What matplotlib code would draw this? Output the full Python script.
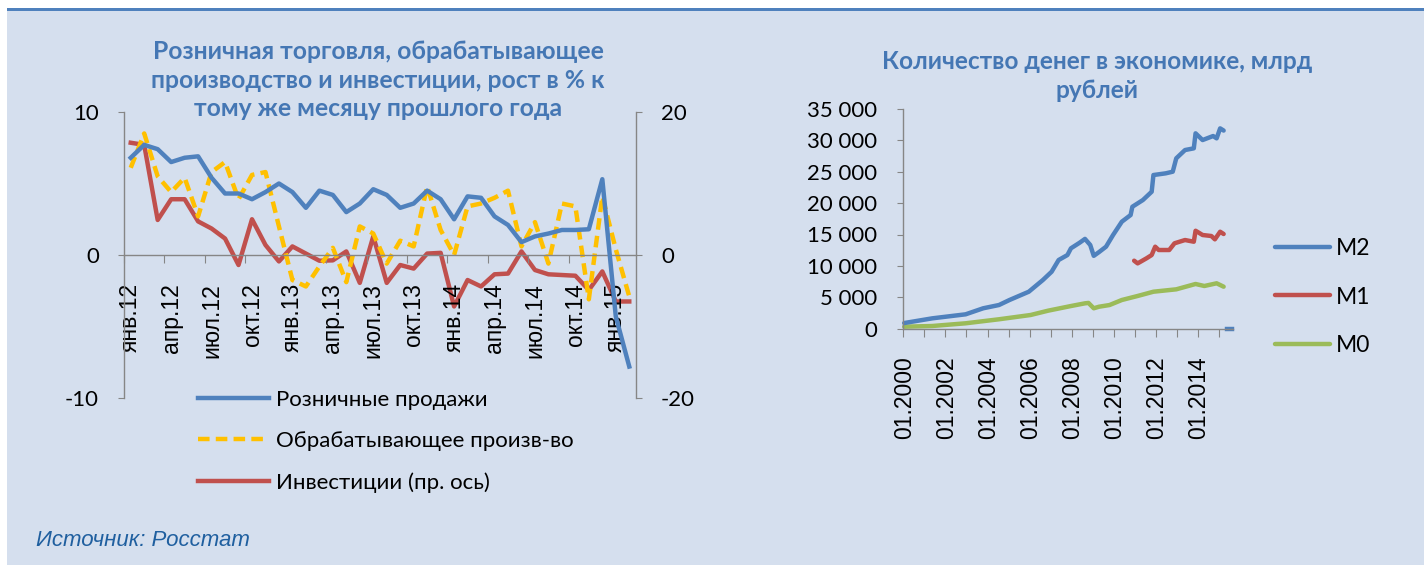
import matplotlib
matplotlib.use('Agg')
import matplotlib.pyplot as plt
from matplotlib.patches import Rectangle
from matplotlib.ticker import FuncFormatter
import numpy as np

plt.rcParams['axes.unicode_minus'] = False

W, H = 1424, 565

# left chart: Jan 2012 .. Feb 2015, y/y growth, %
retail = [6.8, 7.7, 7.4, 6.5, 6.8, 6.9, 5.4, 4.3, 4.3, 3.9, 4.4, 5.0, 4.4, 3.3,
          4.5, 4.2, 3.0, 3.6, 4.6, 4.2, 3.3, 3.6, 4.5, 3.9, 2.5, 4.1, 4.0, 2.7,
          2.1, 0.9, 1.3, 1.5, 1.75, 1.75, 1.8, 5.3, -4.3, -7.8]
manufacturing = [6.1, 8.5, 5.5, 4.4, 5.4, 2.7, 5.8, 6.5, 3.9, 5.6, 5.8, 2.0, -1.75,
                 -2.2, -0.8, 0.5, -1.9, 2.0, 1.5, -0.6, 1.0, 0.6, 4.8, 1.75, 0.0,
                 3.4, 3.6, 4.0, 4.5, 0.6, 2.3, -0.6, 3.6, 3.4, -3.1, 4.1, 0.4, -2.9]
investments = [15.7, 15.4, 4.9, 7.8, 7.8, 4.7, 3.7, 2.3, -1.4, 5.0, 1.4, -0.9, 1.2,
               0.2, -0.8, -0.75, 0.5, -3.9, 2.6, -3.9, -1.4, -1.9, 0.2, 0.3, -7.2,
               -3.5, -4.4, -2.7, -2.6, 0.5, -2.1, -2.7, -2.8, -2.9, -4.9, -2.3, -6.5, -6.5]
month_labels = ['янв.12', 'апр.12', 'июл.12', 'окт.12', 'янв.13', 'апр.13', 'июл.13',
                'окт.13', 'янв.14', 'апр.14', 'июл.14', 'окт.14', 'янв.15']

# right chart: money supply, bn rub (monthly axis Jan 2000 .. Aug 2015)
m2_dates = ['2000-01', '2001-05', '2002-12', '2003-10', '2004-07', '2005-01', '2005-12',
            '2006-08', '2007-01', '2007-05', '2007-10', '2007-12', '2008-05', '2008-08',
            '2008-11', '2009-01', '2009-04', '2009-08', '2009-12', '2010-05', '2010-10',
            '2010-11', '2011-05', '2011-10', '2011-11', '2012-06', '2012-10', '2012-12',
            '2013-05', '2013-10', '2013-11', '2014-03', '2014-09', '2014-11', '2015-01',
            '2015-03']
m2_values = [900, 1650, 2290, 3250, 3770, 4570, 5890, 7750, 9070, 10940, 11730, 12800,
             13700, 14300, 13330, 11600, 12200, 13060, 14920, 17040, 18100, 19420, 20490,
             21810, 24470, 24740, 25000, 27130, 28450, 28720, 31110, 30040, 30680, 30310,
             31900, 31550]
m2_tail_dates = ['2015-05', '2015-08']
m2_tail_values = [0, 0]
m1_dates = ['2010-12', '2011-02', '2011-07', '2011-10', '2011-12', '2012-02', '2012-08',
            '2012-11', '2013-05', '2013-10', '2013-11', '2014-03', '2014-08', '2014-10',
            '2015-01', '2015-03']
m1_values = [10830, 10400, 11200, 11730, 13060, 12530, 12530, 13600, 14120, 13850, 15600,
             14920, 14760, 14230, 15440, 15080]
m0_dates = ['2000-01', '2001-05', '2002-12', '2004-07', '2006-01', '2006-11', '2007-12',
            '2008-08', '2008-10', '2009-01', '2009-04', '2009-10', '2010-05', '2011-02',
            '2011-11', '2012-12', '2013-11', '2014-04', '2014-11', '2015-03']
m0_values = [320, 430, 860, 1500, 2180, 2870, 3610, 4040, 4100, 3250, 3500, 3770, 4570,
             5210, 5890, 6270, 7120, 6800, 7230, 6690]
year_labels = ['01.2000', '01.2002', '01.2004', '01.2006', '01.2008', '01.2010',
               '01.2012', '01.2014']
n_months = 188

BLUE = '#4F81BD'
RED = '#C0504D'
YELLOW = '#FFC000'
GREEN = '#9BBB59'
AXIS = '#868686'
TITLE = '#4577B4'
PANEL = '#D5DFEE'
CAL = ['Lato', 'DejaVu Sans']
ARIAL = ['Liberation Sans', 'DejaVu Sans']


def month_index(s):
    y, m = s.split('-')
    return (int(y) - 2000) * 12 + int(m) - 1


def px_box(x0, y_top, x1, y_bottom):
    return [x0 / W, 1 - y_bottom / H, (x1 - x0) / W, (y_bottom - y_top) / H]


def style_axis(ax):
    for sp in ax.spines.values():
        sp.set_color(AXIS)
        sp.set_linewidth(1.0)
    ax.set_facecolor('none')


fig = plt.figure(figsize=(W / 100, H / 100), dpi=100)
fig.patch.set_facecolor('white')
fig.patches.append(Rectangle((7 / W, 0), 1, (H - 11) / H, transform=fig.transFigure,
                             facecolor=PANEL, edgecolor='none', zorder=-10))
fig.patches.append(Rectangle((7 / W, (H - 11) / H), 1, 3 / H, transform=fig.transFigure,
                             facecolor=BLUE, edgecolor='none', zorder=-9))

# ---- left chart
ax = fig.add_axes(px_box(124, 112, 636, 398))
style_axis(ax)
x = np.arange(len(retail))
ax.set_xlim(-0.5, len(retail) - 0.5)
ax.set_ylim(-10, 10)
ax.spines['top'].set_visible(False)
ax.spines['right'].set_visible(False)
ax.spines['bottom'].set_position(('data', 0))
ax.set_yticks([-10, 0, 10])
ax.tick_params(axis='y', direction='out', length=4, color=AXIS, pad=14,
               labelsize=16)
ax.set_xticks(np.arange(-0.5, len(retail) - 1, 3))
ax.set_xticklabels([])
ax.set_xticks(np.arange(0, len(retail), 3), month_labels, minor=True)
ax.tick_params(axis='x', which='major', direction='out', length=6, color=AXIS)
ax.tick_params(axis='x', which='minor', length=0, pad=20, labelrotation=90,
               labelsize=16.5)
for t in ax.get_xticklabels(minor=True):
    t.set_family(ARIAL)
for t in ax.get_yticklabels():
    t.set_family(CAL)

l1, = ax.plot(x, retail, color=BLUE, lw=3.2, solid_joinstyle='round', zorder=3)
l2, = ax.plot(x, manufacturing, color=YELLOW, lw=3.2, dashes=(2.6, 1.4), zorder=2)

axr = ax.twinx()
style_axis(axr)
axr.set_ylim(-20, 20)
axr.spines['top'].set_visible(False)
axr.spines['left'].set_visible(False)
axr.spines['bottom'].set_visible(False)
axr.set_yticks([-20, 0, 20])
axr.tick_params(axis='y', direction='out', length=4, color=AXIS, pad=14, labelsize=16)
for t in axr.get_yticklabels():
    t.set_family(CAL)
l3, = axr.plot(x, investments, color=RED, lw=3.2, solid_joinstyle='round', zorder=1)
axr.set_zorder(ax.get_zorder() - 1)

fig.text(378 / W, 1 - 80 / H,
         'Розничная торговля, обрабатывающее\nпроизводство и инвестиции, рост в % к\n'
         'тому же месяцу прошлого года',
         ha='center', va='center', color=TITLE, fontsize=17.8, fontweight='bold',
         family=CAL, linespacing=1.3)

fig.legend([l1, l2, l3],
           ['Розничные продажи', 'Обрабатывающее произв-во', 'Инвестиции (пр. ось)'],
           loc='upper left', bbox_to_anchor=(198 / W, 1 - 390 / H), frameon=False,
           borderpad=0, borderaxespad=0, handlelength=3.2, handletextpad=0.3,
           labelspacing=0.95, prop={'family': CAL, 'size': 16})

fig.text(36 / W, 1 - 541 / H, 'Источник: Росстат', ha='left', va='center',
         color='#1F5F9F', fontsize=16, style='italic', family=ARIAL)

# ---- right chart
bx = fig.add_axes(px_box(903.3, 108.9, 1233.3, 328.7))
style_axis(bx)
bx.set_xlim(-0.5, n_months - 0.5)
bx.set_ylim(0, 35000)
bx.spines['top'].set_visible(False)
bx.spines['right'].set_visible(False)
bx.set_yticks(np.arange(0, 35001, 5000))
bx.yaxis.set_major_formatter(FuncFormatter(lambda v, p: f'{int(v):,}'.replace(',', ' ')))
bx.tick_params(axis='y', direction='out', length=4, color=AXIS, pad=15, labelsize=16)
for t in bx.get_yticklabels():
    t.set_family(CAL)
bx.set_xticks(np.arange(-0.5, n_months - 1, 12))
bx.set_xticklabels([])
bx.set_xticks(np.arange(0, 24 * len(year_labels), 24), year_labels, minor=True)
bx.tick_params(axis='x', which='major', direction='out', length=6, color=AXIS)
bx.tick_params(axis='x', which='minor', length=0, pad=20, labelrotation=90, labelsize=16.5)
for t in bx.get_xticklabels(minor=True):
    t.set_family(ARIAL)

g0, = bx.plot([month_index(d) for d in m0_dates], m0_values, color=GREEN, lw=3.2,
              solid_joinstyle='round', solid_capstyle='round', clip_on=False)
g1, = bx.plot([month_index(d) for d in m1_dates], m1_values, color=RED, lw=3.2,
              solid_joinstyle='round', solid_capstyle='round')
g2, = bx.plot([month_index(d) for d in m2_dates], m2_values, color=BLUE, lw=3.2,
              solid_joinstyle='round', solid_capstyle='round', clip_on=False)
bx.plot([month_index(d) for d in m2_tail_dates], m2_tail_values, color=BLUE, lw=3.2,
        clip_on=False)

fig.text(1097 / W, 1 - 76 / H, 'Количество денег в экономике, млрд\nрублей',
         ha='center', va='center', color=TITLE, fontsize=17.6, fontweight='bold',
         family=CAL, linespacing=1.3)

fig.legend([g2, g1, g0], ['M2', 'M1', 'M0'], loc='upper left',
           bbox_to_anchor=(1275 / W, 1 - 238 / H), frameon=False, borderpad=0,
           borderaxespad=0, handlelength=2.4, handletextpad=0.25, labelspacing=1.2,
           prop={'family': CAL, 'size': 16.5})

fig.savefig('out.png', dpi=100, facecolor=fig.get_facecolor())
